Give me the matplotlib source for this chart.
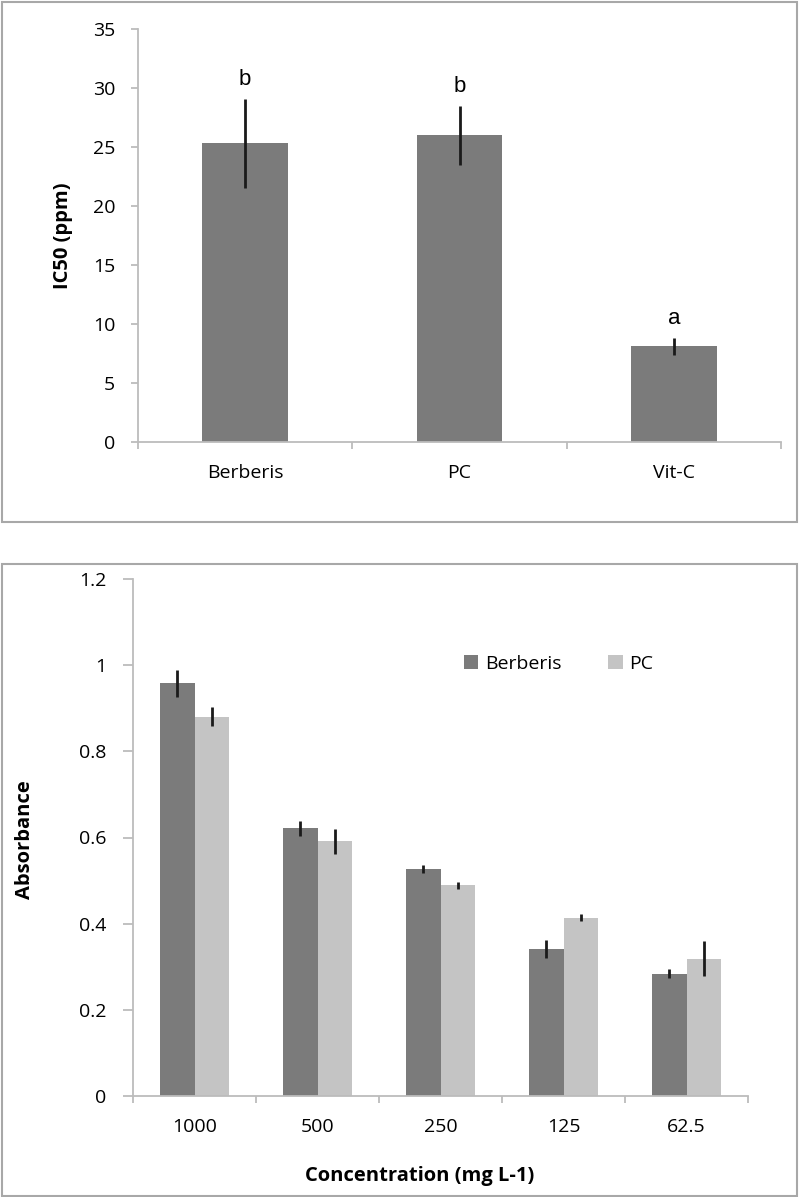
import matplotlib
matplotlib.use('Agg')
import matplotlib.pyplot as plt
from matplotlib.patches import Rectangle
import numpy as np

plt.rcParams['font.family'] = ['Open Sans', 'DejaVu Sans']

# top chart: IC50
samples = ['Berberis', 'PC', 'Vit-C']
ic50 = [25.3, 26.0, 8.1]
ic50_err = [3.75, 2.5, 0.7]
ic50_letters = ['b', 'b', 'a']

# bottom chart: absorbance
conc_labels = ['1000', '500', '250', '125', '62.5']
abs_berberis = [0.958, 0.621, 0.527, 0.341, 0.284]
abs_berberis_err = [0.031, 0.018, 0.010, 0.020, 0.010]
abs_pc = [0.880, 0.591, 0.489, 0.414, 0.319]
abs_pc_err = [0.022, 0.029, 0.008, 0.008, 0.040]

DARK = '#7b7b7b'
LIGHT = '#c4c4c4'
AXIS = '#bcbcbc'
FRAME = '#a8a8a8'
TICK_FS = 14
LABEL_FS = 14.5

W, H = 799, 1197
fig = plt.figure(figsize=(W / 100, H / 100), dpi=100)


def px_box(left, right, top, bottom):
    # pixel box -> figure fraction [l, b, w, h]
    return [left / W, 1 - bottom / H, (right - left) / W, (bottom - top) / H]


def style_axes(ax, n):
    for s in ['top', 'right']:
        ax.spines[s].set_visible(False)
    for s in ['left', 'bottom']:
        ax.spines[s].set_color(AXIS)
        ax.spines[s].set_linewidth(1.3)
    ax.set_xlim(-0.5, n - 0.5)
    ax.set_xticks(np.arange(-0.5, n, 1.0), minor=True)
    ax.tick_params(axis='x', which='minor', length=5, width=1.3, color=AXIS)
    ax.tick_params(axis='y', which='major', length=5, width=1.3, color=AXIS,
                   labelsize=TICK_FS, pad=11.5)
    ax.tick_params(axis='x', which='major', length=0, labelsize=TICK_FS, pad=16)


# frames around each chart
fig.patches.append(Rectangle((2 / W, 1 - 522 / H), 795 / W, 520 / H,
                             transform=fig.transFigure, fill=False,
                             edgecolor=FRAME, linewidth=1.5))
fig.patches.append(Rectangle((2 / W, 1 - 1196 / H), 795 / W, 632 / H,
                             transform=fig.transFigure, fill=False,
                             edgecolor=FRAME, linewidth=1.5))

# ---- top chart ----
ax1 = fig.add_axes(px_box(138, 781, 29, 442))
x1 = np.arange(len(samples))
ax1.bar(x1, ic50, width=0.4, color=DARK, zorder=2)
ax1.errorbar(x1, ic50, yerr=ic50_err, fmt='none', ecolor='#1a1a1a',
             elinewidth=2, capsize=0, zorder=3)
for xi, v, e, lab in zip(x1, ic50, ic50_err, ic50_letters):
    ax1.annotate(lab, (xi, v + e), xytext=(0, 10), textcoords='offset points',
                 ha='center', va='baseline', fontsize=16,
                 family=['Liberation Sans', 'DejaVu Sans'])
ax1.set_ylim(0, 35)
ax1.set_yticks(np.arange(0, 36, 5))
ax1.set_xticks(x1)
ax1.set_xticklabels(samples)
style_axes(ax1, len(samples))
ax1.set_ylabel('IC50 (ppm)', fontsize=LABEL_FS, fontweight='bold')
ax1.yaxis.set_label_coords(-0.101, 0.50)

# ---- bottom chart ----
ax2 = fig.add_axes(px_box(133, 748, 579, 1096))
x2 = np.arange(len(conc_labels))
bw = 0.277
ax2.bar(x2 - bw / 2, abs_berberis, width=bw, color=DARK, label='Berberis', zorder=2)
ax2.bar(x2 + bw / 2, abs_pc, width=bw, color=LIGHT, label='PC', zorder=2)
ax2.errorbar(x2 - bw / 2, abs_berberis, yerr=abs_berberis_err, fmt='none',
             ecolor='#1a1a1a', elinewidth=2, capsize=0, zorder=3)
ax2.errorbar(x2 + bw / 2, abs_pc, yerr=abs_pc_err, fmt='none',
             ecolor='#1a1a1a', elinewidth=2, capsize=0, zorder=3)
ax2.set_ylim(0, 1.2)
ax2.set_yticks([0, 0.2, 0.4, 0.6, 0.8, 1.0, 1.2])
ax2.set_yticklabels(['0', '0.2', '0.4', '0.6', '0.8', '1', '1.2'])
ax2.set_xticks(x2)
ax2.set_xticklabels(conc_labels)
style_axes(ax2, len(conc_labels))
ax2.tick_params(axis='y', which='major', length=7, pad=12)
ax2.set_ylabel('Absorbance', fontsize=LABEL_FS, fontweight='bold')
ax2.yaxis.set_label_coords(-0.159, 0.495)
ax2.set_xlabel('Concentration (mg L-1)', fontsize=LABEL_FS, fontweight='bold', va='center')
ax2.xaxis.set_label_coords(0.466, -0.155)

ax2.legend(loc='center left', bbox_to_anchor=(0.525, 0.836), ncol=2,
           frameon=False, fontsize=TICK_FS, handlelength=0.75, handleheight=0.75,
           handletextpad=0.35, columnspacing=2.4, borderaxespad=0)

fig.savefig('out.png', dpi=100)
